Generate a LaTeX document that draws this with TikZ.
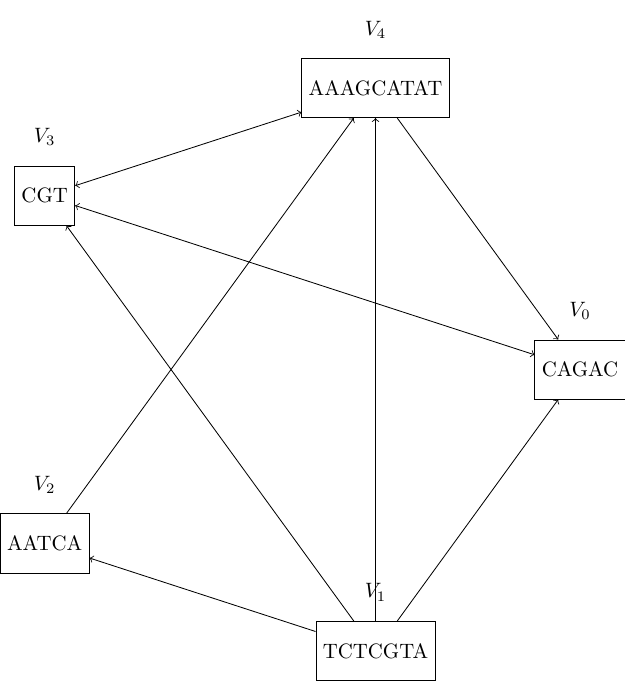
\documentclass[tikz,border=0pt]{standalone}
\begin{document}
\begin{tikzpicture}[seq/.style={draw, minimum height=1cm}, every label/.style={yshift=6pt}]
\useasboundingbox (-4.80,-5.28) rectangle (5.76,6.244);
\node[seq, label=above:$V_0$] (v0) at (0:5) {CAGAC};
\node[seq, label=above:$V_1$] (v1) at (288:5) {TCTCGTA};
\node[seq, label=above:$V_2$] (v2) at (216:5) {AATCA};
\node[seq, label=above:$V_3$] (v3) at (144:5) {CGT};
\node[seq, label=above:$V_4$] (v4) at (72:5) {AAAGCATAT};
\path[draw,<->] (v3) -- (v4);
\path[draw,<->] (v3) -- (v0);
\path[draw,->] (v4) -- (v0);
\path[draw,->] (v1) -- (v0);
\path[draw,->] (v1) -- (v4);
\path[draw,->] (v1) -- (v3);
\path[draw,->] (v1) -- (v2);
\path[draw,->] (v2) -- (v4);
\end{tikzpicture}
\end{document}
